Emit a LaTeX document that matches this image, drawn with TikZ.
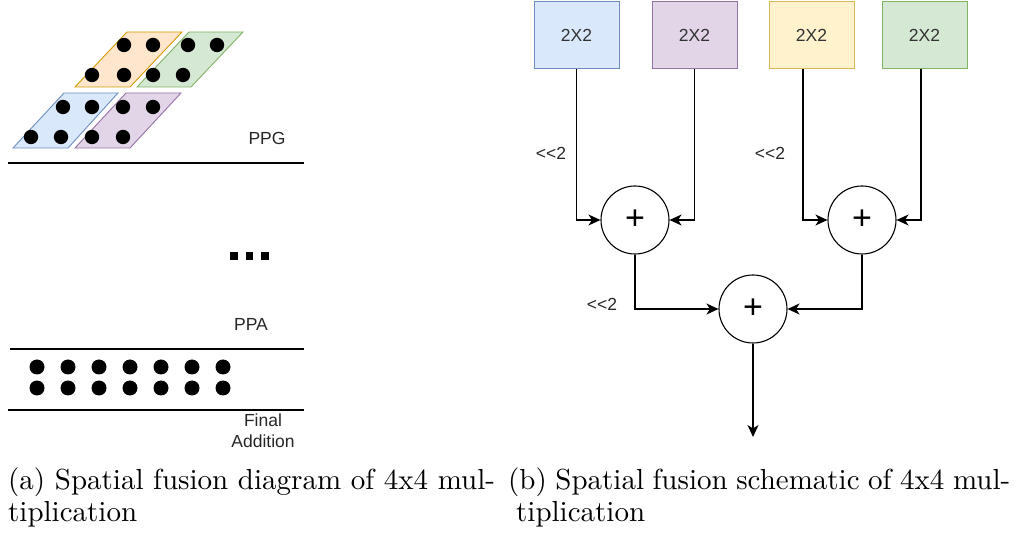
\documentclass[tikz,border=0pt]{standalone}
\usepackage{fontspec}
\newfontfamily\dio{Liberation Sans}
\newfontfamily\capfont{lmroman10-regular}[Extension=.otf]
\usetikzlibrary{arrows.meta}
\definecolor{blueF}{HTML}{DAE8FC}   \definecolor{blueD}{HTML}{6C8EBF}
\definecolor{purpleF}{HTML}{E1D5E7} \definecolor{purpleD}{HTML}{9673A6}
\definecolor{yellowF}{HTML}{FFF2CC} \definecolor{yellowD}{HTML}{D6B656}
\definecolor{greenF}{HTML}{D5E8D4}  \definecolor{greenD}{HTML}{82B366}
\definecolor{orangeF}{HTML}{FFE6CC} \definecolor{orangeD}{HTML}{D79B00}
\newcommand\capsize{\capfont\fontsize{29}{33}\selectfont}
\newcommand\diosize{\dio\fontsize{17.5}{20}\selectfont}
\begin{document}
\begin{tikzpicture}[x=1pt,y=-1pt,
  lbl/.style={font=\diosize, text=black!85, inner sep=0},
  blk/.style={draw, line width=1pt, minimum width=85, minimum height=67,
              inner sep=0, font=\diosize, text=black!80},
  sum/.style={circle, draw, line width=1.1pt, minimum size=68, inner sep=0,
              font=\dio\fontsize{34}{34}\selectfont},
  wire/.style={line width=1.2pt, -{Stealth[length=12pt,width=11pt,inset=3.5pt]}},
  rule/.style={line width=1.1pt},
  captext/.style={anchor=base west, inner sep=0, font=\capsize},
  pp/.style={line width=0.9pt}]
\useasboundingbox (0,0) rectangle (1018,537);

% ---------- (a) partial products as slanted tiles ----------
\filldraw[pp, fill=orangeF, draw=orangeD] (75,87) -- (130,87) -- (182,32) -- (127,32) -- cycle;
\filldraw[pp, fill=greenF,  draw=greenD]  (137,87) -- (191,87) -- (243,32) -- (189,32) -- cycle;
\filldraw[pp, fill=blueF,   draw=blueD]   (13,148) -- (68,148) -- (118,93) -- (64,93) -- cycle;
\filldraw[pp, fill=purpleF, draw=purpleD] (75,148) -- (130,148) -- (181,93) -- (126,93) -- cycle;

\foreach \p in {(124,45),(153,45),(92,75),(124,75),
                (188,45),(217,45),(153,75),(183,75),
                (63,107),(92,107),(31,137),(61,137),
                (123,107),(153,107),(92,137),(123,137)}
  \fill \p circle (7.2);

\node[lbl] (ppg) at (267,138) {PPG};
\draw[rule] (8,163) -- (304,163);

% ellipsis between stages
\foreach \x in {234,249.5,265}
  \fill (\x-3.75,252.25) rectangle (\x+3.75,259.75);

\node[lbl] (ppa) at (251,324) {PPA};
\draw[rule] (10,349) -- (304,349);
\foreach \x in {37,68,99,130,161,192,223}{
  \fill (\x,367) circle (7.5);
  \fill (\x,388) circle (7.5);
}
\draw[rule] (8,410) -- (304,410);
\node[lbl] (fin1) at (263,420) {Final};
\node[lbl] (fin2) at (263,441) {Addition};

% ---------- (b) adder tree ----------
\node[blk, fill=blueF,   draw=blueD]   (b1) at (576.5,35.5) {2X2};
\node[blk, fill=purpleF, draw=purpleD] (b2) at (694.5,35.5) {2X2};
\node[blk, fill=yellowF, draw=yellowD] (b3) at (811.5,35.5) {2X2};
\node[blk, fill=greenF,  draw=greenD]  (b4) at (924.5,35.5) {2X2};

\node[sum] (s1) at (635,220) {+};
\node[sum] (s2) at (862,220) {+};
\node[sum] (s3) at (753,309) {+};
\coordinate (out) at (753,437);

\draw[wire] (b1.south) |- (s1.west);
\draw[wire] (b2.south) |- (s1.east);
\draw[wire] ([xshift=-8.5pt]b3.south) |- (s2.west);
\draw[wire] ([xshift=-3.5pt]b4.south) |- (s2.east);
\draw[wire] (s1.south) |- (s3.west);
\draw[wire] (s2.south) |- (s3.east);
\draw[wire] (s3.south) -- (out);

\node[lbl] (sh1) at (551,153) {<<2};
\node[lbl] (sh2) at (770,153) {<<2};
\node[lbl] (sh3) at (602,304) {<<2};

% ---------- captions ----------
\node[captext] (ca1) at (8,489) {(a) Spatial fusion diagram of 4x4 mul-};
\node[captext] (ca2) at (8,521) {tiplication};
\node[captext] (cb1) at (508,489) {\makebox[502pt][s]{(b) Spatial fusion schematic of 4x4 mul-}};
\node[captext] (cb2) at (516,521) {tiplication};
\end{tikzpicture}
\end{document}
